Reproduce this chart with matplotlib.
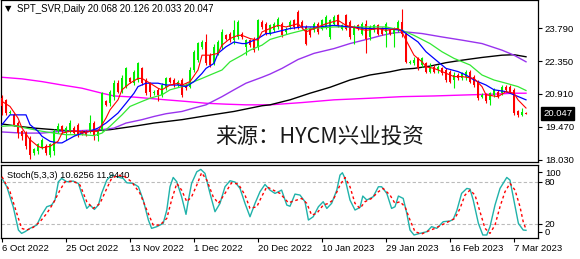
import matplotlib
matplotlib.use("Agg")
import matplotlib.pyplot as plt
import matplotlib.transforms as mtransforms

# ---------------- data ----------------
opens = [20.72,20.65,20.07,19.99,19.63,19.27,19.19,18.98,18.32,18.39,18.54,18.61,18.25,18.39,19.27,19.49,19.19,19.27,19.41,19.56,
         19.27,19.27,19.27,19.63,19.05,19.34,20.58,20.50,20.79,21.38,21.01,21.23,21.59,21.38,21.52,22.03,21.52,21.38,20.94,21.09,
         20.87,21.16,21.59,21.52,21.30,21.52,21.30,21.23,21.96,22.39,22.98,23.19,22.61,22.25,22.69,22.98,23.48,23.56,23.27,23.41,
         23.56,22.98,23.27,23.34,22.98,24.07,23.99,23.56,23.70,23.85,23.99,23.63,23.85,24.14,24.50,24.07,23.85,23.78,23.70,23.99,
         23.78,23.85,23.41,23.99,24.36,23.78,24.36,24.07,23.48,23.92,23.56,23.99,23.41,23.70,23.92,23.78,23.63,23.70,23.56,23.70,
         24.07,23.56,22.25,22.25,22.47,22.18,22.25,21.89,22.10,21.96,22.03,21.96,21.89,21.52,21.74,21.59,21.67,21.89,21.67,21.45,
         20.79,20.87,20.65,20.87,21.01,20.94,21.23,21.23,21.09,20.14,19.99,20.068]
highs = [20.87,20.68,20.21,20.07,19.70,19.34,19.27,19.05,18.54,18.76,18.98,18.69,18.76,19.37,19.63,19.56,19.49,19.78,19.49,19.63,
         19.31,19.34,19.99,19.70,19.34,21.01,20.65,21.09,21.52,21.52,21.74,22.10,21.67,21.96,22.32,22.10,21.59,21.45,21.09,21.16,
         21.38,21.67,21.67,21.59,21.52,21.59,21.38,22.10,22.83,23.19,23.27,23.56,22.69,23.12,23.27,23.78,23.56,23.63,24.14,24.14,
         23.63,23.34,23.34,23.41,24.21,24.14,24.07,23.99,24.07,24.28,24.07,23.85,24.14,24.21,24.58,24.14,23.92,23.85,24.07,24.07,
         24.21,24.36,24.21,24.36,24.43,23.99,24.43,24.14,23.92,23.99,24.07,24.14,23.92,23.99,23.99,23.85,24.07,23.78,23.85,24.14,
         24.65,23.63,22.39,22.54,22.54,22.54,22.32,22.25,22.18,22.18,22.10,22.03,21.96,21.89,21.81,21.89,21.96,21.96,21.74,21.52,
         20.94,20.94,21.01,21.16,21.09,21.30,21.30,21.30,21.16,20.21,20.28,20.126]
lows = [19.99,19.99,20.04,19.49,18.98,18.90,18.47,18.06,18.25,18.29,18.47,18.25,18.15,18.25,19.19,19.17,18.90,19.19,19.12,19.02,
        19.12,19.05,19.19,18.90,18.83,19.27,20.39,20.36,20.65,20.94,20.94,21.16,21.38,21.30,21.45,21.30,20.87,20.79,20.87,20.58,
        20.79,21.09,21.38,21.23,21.23,20.79,21.09,21.16,21.89,22.32,22.90,22.18,22.10,22.18,22.61,22.90,23.27,23.19,23.12,23.34,
        23.34,22.61,22.98,22.76,22.83,23.78,23.48,23.48,23.63,23.78,23.41,23.56,23.78,23.78,23.78,23.78,23.05,23.41,23.63,23.56,
        23.70,23.78,23.34,23.92,23.85,23.70,23.70,23.34,23.12,23.70,23.48,22.71,23.27,23.63,23.48,23.48,22.98,23.48,22.98,23.63,
        23.41,22.25,22.21,22.18,21.96,22.10,21.81,21.81,21.81,21.81,21.74,21.45,21.38,21.16,21.52,21.52,21.52,21.38,21.23,20.65,
        20.72,20.50,20.43,20.79,20.72,20.87,21.01,20.94,19.99,19.89,19.92,20.033]
closes = [20.36,20.07,20.12,19.56,19.19,19.05,18.61,18.25,18.47,18.69,18.90,18.32,18.69,19.27,19.49,19.27,19.41,19.63,19.19,19.12,
          19.19,19.12,19.63,19.05,19.27,20.94,20.43,21.01,21.38,21.01,21.59,22.03,21.45,21.89,22.25,21.38,20.94,21.01,21.01,20.87,
          21.30,21.59,21.45,21.30,21.45,20.87,21.16,21.96,22.76,23.15,23.19,22.25,22.18,22.98,23.19,23.63,23.34,23.27,23.70,24.07,
          23.41,23.27,23.05,22.83,24.14,23.85,23.56,23.92,23.99,24.21,23.48,23.78,24.07,23.85,23.85,23.85,23.12,23.48,23.99,23.63,
          24.14,24.28,24.14,24.28,23.92,23.92,23.78,23.41,23.85,23.78,23.99,23.34,23.85,23.92,23.56,23.56,23.99,23.56,23.78,24.07,
          23.56,22.32,22.32,22.39,22.03,22.47,21.89,22.10,21.89,22.10,21.81,21.52,21.45,21.74,21.59,21.81,21.89,21.45,21.30,20.72,
          20.87,20.58,20.94,21.09,20.79,21.23,21.09,21.01,20.07,19.99,20.10,20.047]

ma_red = [(0,20.58),(2,20.36),(4,19.85),(5,19.41),(7,18.90),(9,18.61),(10,18.54),(12,18.61),(14,18.83),(15,19.19),
          (17,19.27),(19,19.27),(20,19.19),(22,19.27),(24,19.27),(25,19.56),(26,19.85),(27,20.21),(29,20.65),(30,21.09),
          (32,21.38),(34,21.59),(35,21.59),(37,21.38),(39,21.16),(40,21.09),(42,21.30),(44,21.38),(45,21.30),(47,21.45),
          (49,21.96),(50,22.61),(52,22.61),(54,22.69),(55,23.05),(57,23.34),(59,23.48),(60,23.48),(62,23.34),(64,23.27),
          (65,23.63),(67,23.78),(69,23.92),(71,23.85),(74,23.99),(76,23.63),(79,23.85),(81,23.99),(84,24.14),(86,23.92),
          (89,23.78),(91,23.70),(94,23.78),(96,23.70),(99,23.78),(100,23.63),(101,23.27),(103,22.61),(105,22.32),(106,22.10),
          (108,22.03),(110,21.89),(113,21.67),(115,21.67),(118,21.59),(120,21.23),(121,20.87),(124,20.79),(126,21.01),(128,20.94),
          (129,20.65),(131,20.29)]
ma_blue = [(0,19.56),(1,19.78),(2,19.99),(6,19.99),(7,19.56),(9,19.27),(10,19.05),(12,18.83),(14,18.76),(15,18.76),
           (18,19.05),(20,19.19),(22,19.27),(24,19.41),(26,19.63),(29,20.07),(31,20.50),(33,20.94),(34,21.23),(36,21.38),
           (39,21.38),(41,21.30),(44,21.30),(46,21.23),(48,21.45),(50,21.81),(51,22.03),(53,22.25),(54,22.69),(56,22.98),
           (58,23.19),(60,23.12),(61,23.12),(64,23.34),(66,23.56),(67,23.56),(72,23.78),(75,23.85),(79,23.85),(83,23.92),
           (87,23.85),(91,23.78),(96,23.78),(100,23.70),(101,23.56),(104,23.19),(106,22.76),(109,22.32),(111,22.03),(114,21.89),
           (116,21.74),(118,21.52),(121,21.30),(123,21.09),(126,21.01),(128,20.87),(131,20.65)]
ma_green = [(0,19.49),(3,19.52),(6,19.41),(10,19.27),(13,19.19),(16,19.12),(20,19.12),(23,19.08),(25,19.19),(27,19.49),
            (30,19.99),(32,20.36),(35,20.58),(37,20.72),(40,20.87),(42,21.09),(45,21.23),(47,21.38),(50,21.59),(52,21.74),
            (55,21.96),(57,22.32),(60,22.61),(62,22.83),(65,23.05),(67,23.30),(72,23.56),(77,23.78),(83,23.85),(92,23.85),
            (96,23.85),(100,23.70),(103,23.48),(107,23.12),(110,22.76),(113,22.47),(117,22.18),(120,21.74),(123,21.52),(126,21.38),
            (129,21.23),(131,21.06)]
ma_purple = [(0,19.24),(5,19.19),(10,19.19),(15,19.27),(20,19.30),(25,19.34),(28,19.41),(31,19.63),(35,19.78),(38,19.92),
             (41,20.04),(45,20.14),(48,20.29),(51,20.43),(55,20.79),(58,21.09),(61,21.38),(65,21.64),(67,21.78),(70,22.03),
             (74,22.42),(78,22.69),(83,22.90),(87,23.12),(92,23.34),(95,23.48),(98,23.59),(101,23.63),(105,23.56),(110,23.41),
             (115,23.27),(120,23.12),(125,22.83),(128,22.61),(131,22.32)]
ma_black = [(0,19.59),(4,19.49),(8,19.41),(13,19.34),(16,19.30),(21,19.27),(27,19.34),(33,19.49),(38,19.63),(45,19.78),
            (51,19.95),(58,20.14),(65,20.39),(67,20.43),(72,20.65),(77,20.94),(82,21.20),(87,21.52),(92,21.74),(97,21.88),
            (100,21.99),(103,22.03),(107,22.13),(111,22.28),(115,22.39),(120,22.51),(125,22.61),(128,22.63),(131,22.54)]
ma_magenta = [(0,21.64),(5,21.57),(10,21.45),(15,21.30),(20,21.16),(25,20.94),(28,20.82),(33,20.77),(37,20.71),(41,20.65),
              (46,20.58),(51,20.50),(56,20.46),(61,20.43),(67,20.43),(75,20.53),(83,20.65),(92,20.72),(100,20.79),(108,20.82),
              (117,20.87),(123,20.90),(128,20.94),(131,20.94)]

stoch_k = [(0,84.8),(1.2,72.9),(2.8,44.3),(4.1,11.0),(4.9,6.2),(5.75,8.6),(7,13.4),(8.7,18.1),(9.9,32.4),(11.2,44.3),
           (12.4,46.7),(13.25,53.9),(14.1,80.0),(14.9,84.8),(16.2,80.0),(17.8,81.0),(19.1,77.7),(19.9,63.4),(21.2,41.9),(22,46.7),
           (23.1,40.5),(24.1,46.7),(24.9,63.4),(26.2,82.4),(27.4,89.6),(28.7,87.2),(30.3,84.8),(31.2,78.6),(32.8,77.7),(34.1,72.9),
           (35.3,53.9),(36.6,25.3),(37.4,13.4),(38.7,15.8),(40.3,20.5),(41.2,39.6),(42,72.9),(42.8,86.2),(43.7,80.0),(44.9,58.6),
           (46,33.4),(46.6,53.9),(47.4,77.7),(48.7,94.3),(49.7,97.7),(50.75,92.0),(52,63.4),(53.25,37.2),(54.5,49.1),(55.75,72.9),
           (57,81.5),(58.25,79.6),(59.5,70.5),(60.75,49.1),(62,30.0),(63.25,49.1),(64.5,65.8),(65.75,76.2),(67,68.1),(68.25,63.4),
           (69.9,68.1),(71.2,46.7),(72,45.0),(73.25,62.4),(74.5,61.0),(75.75,51.5),(76.6,25.3),(77.8,30.0),(79.1,44.3),(80.3,51.5),
           (81.2,41.9),(82.4,49.1),(83.7,68.1),(84.5,89.6),(85.1,92.9),(85.75,84.8),(87,53.9),(88.25,39.6),(89.5,43.4),(90.2,59.6),
           (91.2,53.9),(92.8,58.6),(94.1,72.9),(94.9,72.9),(96.2,63.4),(97.4,41.9),(98.25,44.3),(99.1,59.6),(100.3,56.2),(101.2,34.8),
           (102,11.0),(103,3.9),(104.5,6.2),(106.2,8.6),(107.4,15.8),(108.7,13.4),(110.3,22.9),(112,23.9),(112.8,26.2),(113.7,38.6),
           (114.9,63.4),(116.2,70.5),(117,69.6),(117.8,53.9),(119.1,20.5),(120.2,3.9),(121.2,3.9),(122,15.8),(123.25,46.7),(124.5,70.5),
           (126.2,86.2),(127,82.4),(127.8,58.6),(129.1,20.5),(130.3,11.0),(131,10.6)]
stoch_d = [(0,87.2),(2,65.8),(3.7,34.8),(4.9,13.4),(6.2,11.0),(7.8,14.8),(9.5,22.9),(11.2,34.8),(12.8,49.1),(14.5,68.1),
           (15.75,80.0),(17.8,81.0),(19.5,75.3),(21.2,51.5),(22.8,41.9),(24.5,49.1),(26.2,70.5),(27.4,84.8),(29.1,89.6),(30.75,87.2),
           (32.4,80.0),(34.5,63.4),(36.2,39.6),(37.8,18.1),(39.5,18.1),(41.2,27.7),(42.4,53.9),(43.7,77.7),(44.9,68.1),(46.2,51.5),
           (47.4,58.6),(48.7,75.3),(49.9,92.9),(51.2,82.4),(52.8,58.6),(54.1,49.1),(55.75,63.4),(57.4,78.6),(59.1,76.7),(60.75,61.0),
           (62,41.9),(63.7,44.3),(64.9,58.6),(66.2,72.9),(67.8,68.1),(69.5,63.4),(71.6,50.0),(73.7,53.9),(74.9,56.2),(76.2,49.1),
           (77.4,32.4),(78.7,34.8),(80.3,46.7),(81.6,49.1),(82.8,53.9),(84.5,75.3),(85.75,86.2),(87,72.9),(88.25,49.1),(89.5,41.9),
           (90.75,51.5),(92.4,56.2),(94.1,65.8),(95.3,70.5),(97,61.0),(98.25,49.1),(99.5,51.5),(100.75,44.3),(102,25.3),(103.25,8.6),
           (104.9,5.3),(106.6,9.6),(108.25,13.4),(109.9,18.1),(111.6,22.9),(113.25,27.7),(114.5,41.9),(115.75,61.0),(117,68.1),(118.25,61.0),
           (119.5,37.2),(120.75,13.4),(122,6.2),(123.25,18.1),(124.5,44.3),(125.75,65.8),(127,77.7),(128.25,68.1),(129.5,44.3),(130.3,22.9),
           (131,11.9)]

price_ticks = [23.790, 22.350, 20.910, 19.470, 18.030]
last_price = 20.047
date_tick_bars = [0, 16, 32, 48, 64, 80, 96, 112, 128]
date_labels = ["6 Oct 2022", "25 Oct 2022", "13 Nov 2022", "1 Dec 2022", "20 Dec 2022",
               "10 Jan 2023", "29 Jan 2023", "16 Feb 2023", "7 Mar 2023"]
title_text = "SPT_SVR,Daily 20.068 20.126 20.033 20.047"
stoch_text = "Stoch(5,3,3) 10.6256 11.9440"
watermark = "来源：HYCM兴业投资"

# ---------------- figure ----------------
W, H = 580, 259
fig = plt.figure(figsize=(W / 100, H / 100), dpi=100)
fig.patch.set_facecolor("white")

def px_rect(x0, y0, x1, y1):
    return [x0 / W, 1 - y1 / H, (x1 - x0) / W, (y1 - y0) / H]

LAB = dict(family=["Liberation Sans", "DejaVu Sans"])
ax = fig.add_axes(px_rect(1, 0, 538, 162))
ax2 = fig.add_axes(px_rect(1, 165, 538, 238))

BULL = "#00EE00"
BEAR = "#FF0000"

# candles
for i in range(len(closes)):
    o, h, l, c = opens[i], highs[i], lows[i], closes[i]
    col = BULL if c >= o else BEAR
    ax.vlines(i, l, h, color=col, linewidth=0.8, zorder=3)
    lo, hi = min(o, c), max(o, c)
    ax.bar(i, max(hi - lo, 0.035), bottom=lo, width=0.72, color=col, linewidth=0, zorder=3)

def draw_line(a, pts, color, lw=0.9, **kw):
    xs = [p[0] for p in pts]
    ys = [p[1] for p in pts]
    a.plot(xs, ys, color=color, linewidth=lw, **kw)

draw_line(ax, ma_magenta, "#FF00FF", 1.0, zorder=2)
draw_line(ax, ma_black, "#000000", 1.0, zorder=2)
draw_line(ax, ma_purple, "#9933EE", 1.0, zorder=2)
draw_line(ax, ma_green, "#33E833", 0.9, zorder=4)
draw_line(ax, ma_blue, "#0000FF", 0.9, zorder=4)
draw_line(ax, ma_red, "#FF0000", 0.8, zorder=4)

ax.set_xlim(-0.25, 134)
ax.set_ylim(17.921, 25.032)
ax.set_xticks([])
ax.yaxis.tick_right()
ax.set_yticks(price_ticks)
ax.set_yticklabels(["%.3f" % v for v in price_ticks], fontsize=6.8, **LAB)
ax.tick_params(axis="y", direction="out", length=3, width=0.8, pad=2, colors="black")
for s in ax.spines.values():
    s.set_color("black")
    s.set_linewidth(0.9)

# last price box
trans = mtransforms.blended_transform_factory(ax.transAxes, ax.transData)
ax.text(1.0 + 5 / 537, last_price, "%.3f" % last_price, transform=trans, ha="left", va="center",
        fontsize=6.8, color="white", clip_on=False,
        bbox=dict(boxstyle="square,pad=0.2", facecolor="black", edgecolor="black"), **LAB)

# title
fig.text(8.5 / W, 1 - 9 / H, "▼", fontsize=6, ha="center", va="center", family="DejaVu Sans", color="black")
fig.text(17 / W, 1 - 8.5 / H, title_text, fontsize=6.9, ha="left", va="center", **LAB)

# watermark
fig.text(215 / W, 1 - 138 / H, watermark, fontsize=15.5, ha="left", va="center", color="#1a1a1a",
         family=["Noto Sans CJK SC", "DejaVu Sans"])

# stochastic panel
ax2.axhline(80, color="#BBBBBB", linestyle=(0, (3, 2)), linewidth=0.8)
ax2.axhline(20, color="#BBBBBB", linestyle=(0, (3, 2)), linewidth=0.8)
draw_line(ax2, stoch_k, "#20B2AA", 1.0, zorder=3)
draw_line(ax2, stoch_d, "#FF0000", 1.0, linestyle=(0, (2, 2)), zorder=4)
ax2.set_xlim(-0.25, 134)
ax2.set_ylim(-0.4, 104)
ax2.yaxis.tick_right()
ax2.set_yticks([93.9, 80, 20, 8.6])
ax2.set_yticklabels(["100", "80", "20", "0"], fontsize=6.8, **LAB)
ax2.tick_params(axis="y", direction="out", length=3, width=0.8, pad=2)
ax2.set_xticks(date_tick_bars)
ax2.set_xticklabels(date_labels, fontsize=6.8, **LAB)
for t in ax2.get_xticklabels():
    t.set_horizontalalignment("left")
ax2.tick_params(axis="x", direction="out", length=3, width=0.8, pad=1.5)
for s in ax2.spines.values():
    s.set_color("black")
    s.set_linewidth(0.9)
ax2.text(6 / 537, 1 - 10 / 73, stoch_text, transform=ax2.transAxes, fontsize=6.7, ha="left", va="center", **LAB)

fig.savefig("out.png", dpi=100, facecolor="white")
